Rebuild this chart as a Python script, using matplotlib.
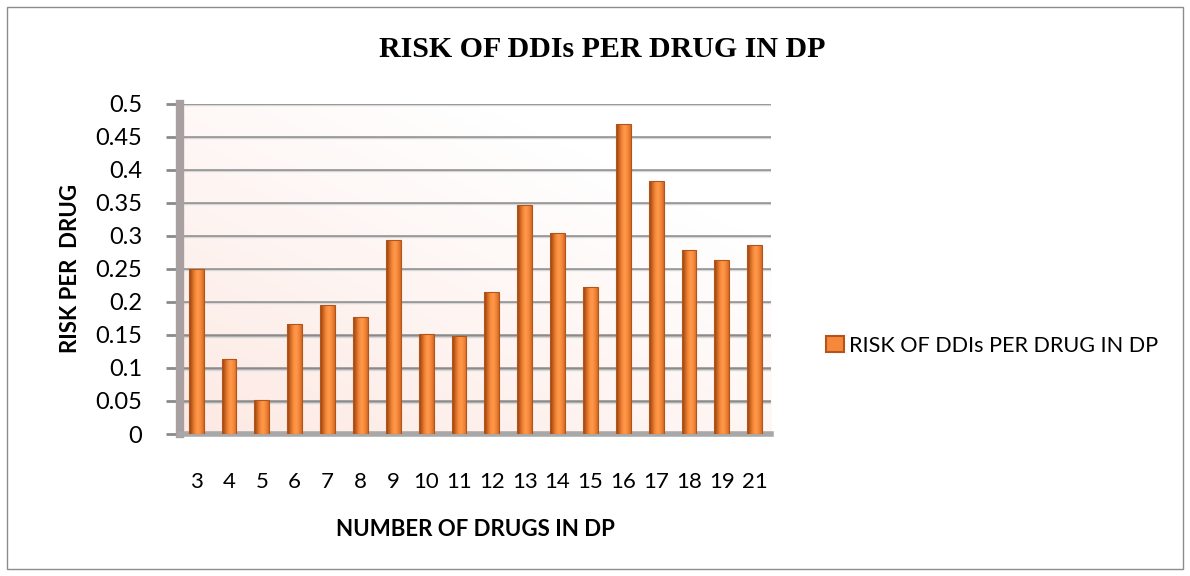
import numpy as np
import matplotlib.pyplot as plt
from matplotlib.colors import LinearSegmentedColormap

# risk of drug-drug interactions per drug, by number of drugs in the prescription
drug_counts = ['3', '4', '5', '6', '7', '8', '9', '10', '11', '12',
               '13', '14', '15', '16', '17', '18', '19', '21']
risk_per_drug = [0.25, 0.113, 0.052, 0.167, 0.195, 0.177, 0.294, 0.151, 0.148, 0.215,
                 0.346, 0.304, 0.223, 0.469, 0.383, 0.278, 0.264, 0.286]
yticks = [0, 0.05, 0.1, 0.15, 0.2, 0.25, 0.3, 0.35, 0.4, 0.45, 0.5]

plt.rcParams['font.family'] = ['Lato', 'DejaVu Sans']

fig = plt.figure(figsize=(11.9, 5.76), dpi=100)
fig.patches.append(plt.Rectangle((0.006, 0.012), 0.988, 0.976, transform=fig.transFigure,
                                 fill=False, edgecolor='#8c8c8c', linewidth=1))
ax = fig.add_axes([0.151, 0.2465, 0.497, 0.5738])

x = np.arange(len(drug_counts))
ax.set_xlim(-0.5, len(drug_counts) - 0.5)
ax.set_ylim(0, 0.5)

# back wall: soft pink fading to white towards the top right
gy, gx = np.mgrid[0:1:200j, 0:1:200j]
wall = np.clip(1 - (gx * 0.6 + gy * 0.7), 0, 1)
wall_cmap = LinearSegmentedColormap.from_list('wall', ['#ffffff', '#fde9e3'])
ax.imshow(wall, cmap=wall_cmap, extent=[-0.5, len(drug_counts) - 0.5, 0, 0.5],
          origin='lower', aspect='auto', zorder=0)

for t in yticks:
    ax.axhline(t, color='#8a8a8a', linewidth=1.8, zorder=1)
    ax.axhline(t - 0.0025, color='#d8d8d8', linewidth=1.0, zorder=1)

# cylinder-like shading on each bar
bar_cmap = LinearSegmentedColormap.from_list(
    'bar', ['#8a3f12', '#c8621f', '#f5883a', '#ff9a4a', '#f5883a', '#d46a22'])
shade = np.linspace(0, 1, 64).reshape(1, -1)
bars = ax.bar(x, risk_per_drug, width=0.45, color='#f5883a',
              edgecolor='#b3551a', linewidth=0.8, zorder=2)
for b in bars:
    im = ax.imshow(shade, cmap=bar_cmap, aspect='auto', zorder=3,
                   extent=[b.get_x(), b.get_x() + b.get_width(), 0, b.get_height()])
    im.set_clip_path(b)
    b.set_zorder(4)
    b.set_facecolor('none')

ax.set_xticks(x)
ax.set_xticklabels(drug_counts, fontsize=16)
ax.set_yticks(yticks)
ax.set_yticklabels([f'{t:g}' for t in yticks], fontsize=17)
ax.tick_params(axis='x', length=0, pad=27)
ax.tick_params(axis='y', length=10, width=2, color='#8a8a8a', pad=17)

for side in ['top', 'right']:
    ax.spines[side].set_visible(False)
ax.spines['left'].set_color('#a8a0a0')
ax.spines['left'].set_linewidth(6)
ax.spines['bottom'].set_color('#a8a8a8')
ax.spines['bottom'].set_linewidth(4)

ax.set_xlabel('NUMBER OF DRUGS IN DP', fontsize=16, fontweight='bold', labelpad=20)
ax.set_ylabel('RISK PER  DRUG', fontsize=16, fontweight='bold', labelpad=10)

fig.text(0.506, 0.914, 'RISK OF DDIs PER DRUG IN DP', ha='center', va='center',
         fontsize=21.5, fontweight='bold', family='Liberation Serif')

handle = plt.Rectangle((0, 0), 1, 1, facecolor='#f5883a', edgecolor='#b3551a', linewidth=1.5)
fig.legend([handle], ['RISK OF DDIs PER DRUG IN DP'], loc='center left',
           bbox_to_anchor=(0.678, 0.4), frameon=False, fontsize=15.6,
           handlelength=0.8, handleheight=0.8, handletextpad=0.25)

fig.savefig('out.png', dpi=100)
